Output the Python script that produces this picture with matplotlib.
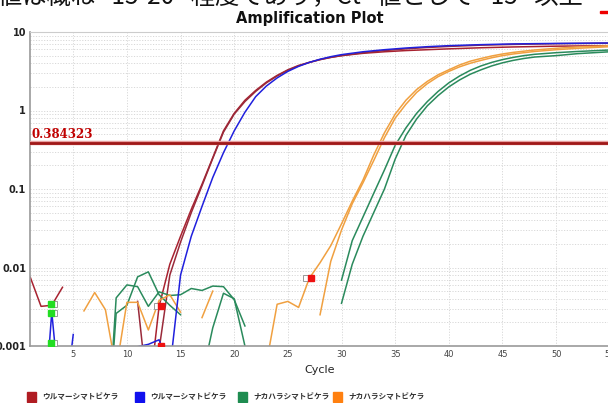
import numpy as np
import matplotlib
matplotlib.use("Agg")
import matplotlib.pyplot as plt
from matplotlib.patches import Rectangle

nan = np.nan

# ---------------- data ----------------
threshold = 0.384323

red_a_cyc = [1, 2, 3, 4, 5, 12, 13, 14, 15, 16, 17, 18, 19, 20, 21, 22, 23, 24, 25, 26, 27, 28, 29, 30,
             32, 34, 36, 38, 40, 43, 46, 50, 55]
red_a_val = [0.0075, 0.0032, 0.0033, 0.0056, nan, 0.0002, 0.0032, 0.011, 0.025, 0.055, 0.115, 0.25, 0.55,
             0.92, 1.35, 1.8, 2.3, 2.8, 3.3, 3.75, 4.1, 4.45, 4.75, 5.0, 5.35, 5.6, 5.8, 5.95, 6.1, 6.3,
             6.45, 6.6, 6.7]

red_b_cyc = [11, 12, 13, 14, 15, 16, 17, 18, 19, 20, 21, 22, 23, 24, 25, 26, 27, 28, 29, 30,
             32, 34, 36, 38, 40, 43, 46, 50, 55]
red_b_val = [0.0037, 0.0002, 0.0009, 0.008, 0.021, 0.05, 0.11, 0.245, 0.53, 0.9, 1.3, 1.75, 2.25, 2.75,
             3.25, 3.7, 4.1, 4.45, 4.75, 5.0, 5.45, 5.8, 6.1, 6.35, 6.55, 6.8, 6.95, 7.1, 7.2]

blue_cyc = [2, 3, 4, 5, 6, 11, 12, 13, 14, 15, 16, 17, 18, 19, 20, 21, 22, 23, 24, 25, 26, 27, 28,
            29, 30, 32, 34, 36, 38, 40, 43, 46, 50, 55]
blue_val = [4e-5, 0.0027, 1e-4, 0.0014, nan, 0.00098, 0.00105, 0.0012, 0.0005, 0.008, 0.025, 0.06, 0.14,
            0.29, 0.55, 0.95, 1.5, 2.05, 2.6, 3.15, 3.65, 4.1, 4.5, 4.85, 5.15, 5.6, 5.95, 6.25, 6.5,
            6.7, 6.9, 7.05, 7.15, 7.25]

green_1_cyc = [8, 9, 10, 11, 12, 13, 14, 15, 16, 17, 18, 19, 20, 21]
green_1_val = [3e-5, 0.0041, 0.006, 0.0057, 0.0032, 0.0049, 0.0044, 0.0045, 0.0054, 0.0051, 0.0058,
               0.0057, 0.0039, 0.0018]

green_2_cyc = [8, 9, 10, 11, 12, 13, 14, 15]
green_2_val = [3e-5, 0.0026, 0.0033, 0.0076, 0.0088, 0.0045, 0.0033, 0.0025]

green_3_cyc = [17, 18, 19, 20, 21]
green_3_val = [0.0004, 0.0017, 0.0047, 0.004, 0.001]

green_4_cyc = [30, 31, 32, 33, 34, 35, 36, 37, 38, 39, 40, 41, 42, 43, 44, 45, 46, 47, 48, 50, 52, 55]
green_4_val = [0.0069, 0.022, 0.044, 0.088, 0.175, 0.36, 0.6, 0.92, 1.3, 1.75, 2.25, 2.75, 3.25, 3.7,
               4.1, 4.45, 4.75, 5.0, 5.2, 5.45, 5.65, 5.9]

green_5_cyc = [30, 31, 32, 33, 34, 35, 36, 37, 38, 39, 40, 41, 42, 43, 44, 45, 46, 47, 48, 50, 52, 55]
green_5_val = [0.0035, 0.011, 0.025, 0.05, 0.1, 0.24, 0.48, 0.78, 1.15, 1.55, 2.0, 2.45, 2.9, 3.3,
               3.7, 4.05, 4.35, 4.6, 4.8, 5.0, 5.3, 5.6]

orange_1_cyc = [6, 7, 8, 9, 10, 11, 12, 13, 14, 15]
orange_1_val = [0.0028, 0.0048, 0.0029, 0.0005, 0.0036, 0.0036, 0.0016, 0.0038, 0.0045, 0.0027]

orange_2_cyc = [17, 18]
orange_2_val = [0.0023, 0.005]

orange_3_cyc = [23, 24, 25, 26, 27, 28, 29, 30, 31, 32, 33, 34, 35, 36, 37, 38, 39, 40, 41, 42, 43,
                44, 45, 46, 47, 48, 50, 52, 55]
orange_3_val = [0.0006, 0.0034, 0.0037, 0.0031, 0.0073, 0.0115, 0.019, 0.036, 0.07, 0.13, 0.27, 0.52,
                0.9, 1.35, 1.85, 2.35, 2.85, 3.3, 3.8, 4.25, 4.6, 4.95, 5.25, 5.5, 5.7, 5.9, 6.2,
                6.45, 6.7]

orange_4_cyc = [28, 29, 30, 31, 32, 33, 34, 35, 36, 37, 38, 39, 40, 41, 42, 43, 44, 45, 46, 47, 48,
                50, 52, 55]
orange_4_val = [0.0025, 0.012, 0.03, 0.065, 0.12, 0.23, 0.45, 0.8, 1.2, 1.7, 2.2, 2.7, 3.15, 3.6,
                4.0, 4.35, 4.7, 5.0, 5.25, 5.45, 5.65, 5.95, 6.2, 6.5]

# markers
green_mark_cyc = [2.9, 2.9, 2.9]
green_mark_val = [0.0034, 0.00265, 0.0011]
red_mark_cyc = [13.2, 13.2, 27.15]
red_mark_val = [0.0032, 0.001, 0.0073]
white_mark_cyc = [3.25, 3.25, 3.25, 12.8, 26.7]
white_mark_val = [0.0034, 0.00265, 0.0011, 0.0032, 0.0073]

legend_labels = ["ウルマーシマトビケラ", "ウルマーシマトビケラ", "ナカハラシマトビケラ", "ナカハラシマトビケラ"]
legend_colors = ["#b01c22", "#1010ee", "#1e8c50", "#ff8010"]

x_ticks = [5, 10, 15, 20, 25, 30, 35, 40, 45, 50, 55]
y_ticks = [0.001, 0.01, 0.1, 1, 10]
y_tick_labels = ["0.001", "0.01", "0.1", "1", "10"]

header_text = "値は概ね   15-20   程度であり，Ct   値として   15   以上"

# ---------------- figure ----------------
plt.rcParams['font.family'] = ['DejaVu Sans', 'Noto Sans CJK JP']
fig = plt.figure(figsize=(6.08, 4.03), dpi=100)
ax = fig.add_axes([30.3 / 608, 1 - 346 / 403, 579.5 / 608, (346 - 32) / 403])

RED = "#a82230"
BLUE = "#2020dd"
GREEN = "#2a8a5c"
ORANGE = "#f0a040"

curves = [
    (red_a_cyc, red_a_val, RED),
    (red_b_cyc, red_b_val, "#9a2a3a"),
    (green_1_cyc, green_1_val, GREEN),
    (green_2_cyc, green_2_val, GREEN),
    (green_3_cyc, green_3_val, GREEN),
    (green_4_cyc, green_4_val, GREEN),
    (green_5_cyc, green_5_val, GREEN),
    (orange_1_cyc, orange_1_val, ORANGE),
    (orange_2_cyc, orange_2_val, ORANGE),
    (orange_3_cyc, orange_3_val, ORANGE),
    (orange_4_cyc, orange_4_val, ORANGE),
    (blue_cyc, blue_val, BLUE),
]
for cyc, val, col in curves:
    ax.plot(cyc, val, color=col, lw=1.1, solid_joinstyle='round')

ax.axhline(threshold, color="#e8a0a0", lw=3.2, zorder=4)
ax.axhline(threshold, color="#a01818", lw=2.0, zorder=5)
ax.text(1.15, threshold * 1.06, f"{threshold:.6f}", color="#c00000", fontsize=8.5,
        fontweight='bold', family='DejaVu Serif', va='bottom', ha='left', zorder=6)

ax.plot(white_mark_cyc, white_mark_val, 's', ms=4, mfc='white', mec='#999999', mew=0.7, zorder=6)
ax.plot(green_mark_cyc, green_mark_val, 's', ms=4.5, mfc='#22dd22', mec='#22dd22', zorder=7)
ax.plot(red_mark_cyc, red_mark_val, 's', ms=4.5, mfc='#ee1111', mec='#ee1111', zorder=7)

ax.set_yscale('log')
ax.set_xlim(1, 55)
ax.set_ylim(0.001, 10)
ax.set_xticks(x_ticks)
ax.set_xticklabels([str(t) for t in x_ticks], fontsize=6, color='#444444')
ax.set_yticks(y_ticks)
ax.set_yticklabels(y_tick_labels, fontsize=7, color='#222222', fontweight='bold')
ax.yaxis.set_minor_formatter(matplotlib.ticker.NullFormatter())
ax.tick_params(axis='both', which='both', length=0, pad=3)
ax.grid(True, which='major', axis='x', color='#d8d8d8', ls=(0, (1.2, 1.6)), lw=0.7)
ax.grid(True, which='both', axis='y', color='#d8d8d8', ls=(0, (1.2, 1.6)), lw=0.7)
for s in ['left', 'bottom']:
    ax.spines[s].set_color('#999999')
    ax.spines[s].set_linewidth(1.2)
ax.spines['top'].set_color('#cccccc')
ax.spines['right'].set_visible(False)
ax.set_axisbelow(True)

ax.set_xlabel("Cycle", fontsize=8, color='#222222', labelpad=4)

fig.text(310 / 608, 1 - 19 / 403, "Amplification Plot", ha='center', va='center',
         fontsize=10.5, fontweight='bold', color='#111111')

fig.text(-0.004, 1 + 3 / 403, header_text, ha='left', va='center', fontsize=17.5,
         family=['Noto Sans CJK JP'], color='#111111')
fig.add_artist(Rectangle((600 / 608, 1 - 13 / 403), 8 / 608, 2 / 403, color='#ee0000',
                         transform=fig.transFigure))

legend_x = [27, 135, 238, 333]
for lx, lab, col in zip(legend_x, legend_labels, legend_colors):
    fig.add_artist(Rectangle((lx / 608, 1 - 402 / 403), 9 / 608, 10 / 403, color=col,
                             transform=fig.transFigure))
    fig.text((lx + 15) / 608, 1 - 397 / 403, lab, ha='left', va='center', fontsize=5.5,
             family=['Noto Sans CJK JP'], color='#333333', fontweight='bold')

fig.savefig("out.png", dpi=100)
